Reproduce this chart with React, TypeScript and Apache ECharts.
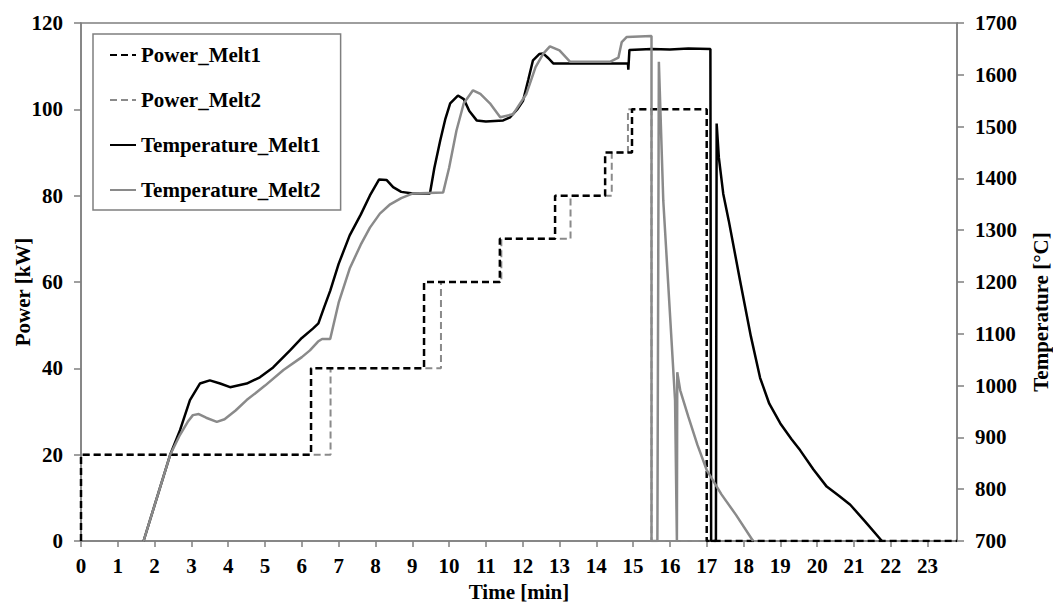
import { useEffect, useRef } from "react";
import * as echarts from "echarts";

// ---- Data ----
const timeTicksMax = 23.8;

const powerMelt1Time = [0, 0, 6.25, 9.32, 11.38, 12.88, 14.24, 14.97, 17.0, 23.8];
const powerMelt1Value = [0, 20, 40, 60, 70, 80, 90, 100, 0, 0];

const powerMelt2Time = [0, 0, 6.78, 9.78, 11.42, 13.3, 14.42, 14.86, 15.5, 23.8];
const powerMelt2Value = [0, 20, 40, 60, 70, 80, 90, 100, 0, 0];

const tempMelt1Time = [
  1.7, 2.42, 2.69, 2.96, 3.23, 3.5, 3.78, 4.05, 4.5, 4.86, 5.22, 5.68, 6.0, 6.3, 6.45, 6.6, 6.77,
  7.0, 7.3, 7.6, 7.85, 8.1, 8.3, 8.48, 8.7, 9.02, 9.48, 9.6, 9.76, 9.9, 10.03, 10.24, 10.4, 10.55,
  10.75, 11.0, 11.47, 11.66, 11.85, 12.01, 12.15, 12.28, 12.45, 12.56, 12.7, 12.83, 14.86, 14.87,
  14.9, 15.5, 16.0, 16.5, 17.1, 17.12, 17.25, 17.27, 17.33, 17.45, 17.6, 17.9, 18.2, 18.45, 18.7,
  19.0, 19.3, 19.54, 19.9, 20.26, 20.6, 20.9, 21.3, 21.76,
];
const tempMelt1Value = [
  700, 866, 914, 972, 1004, 1010, 1004, 997, 1004, 1016, 1035, 1068, 1092, 1110, 1120, 1150, 1183,
  1235, 1290, 1330, 1367, 1398, 1397, 1383, 1374, 1371, 1371, 1420, 1473, 1515, 1545, 1560, 1553,
  1530, 1512, 1510, 1512, 1518, 1533, 1550, 1590, 1628, 1640, 1641, 1632, 1622, 1622, 1610,
  1648, 1650, 1649, 1651, 1650, 700, 700, 1506, 1440, 1370, 1318, 1205, 1095, 1015, 965,
  927, 897, 875, 838, 805, 787, 770, 738, 700,
];

const tempMelt2Time = [
  1.7, 2.42, 2.69, 2.9, 3.04, 3.2, 3.4, 3.69, 3.9, 4.2, 4.5, 5.0, 5.5, 6.0, 6.22, 6.44, 6.55, 6.77,
  7.0, 7.3, 7.6, 7.85, 8.12, 8.4, 8.7, 9.02, 9.84, 10.0, 10.2, 10.4, 10.65, 10.85, 11.11, 11.39,
  11.74, 12.1, 12.35, 12.56, 12.74, 13.0, 13.29, 14.37, 14.6, 14.69, 14.83, 15.5, 15.5, 15.66,
  15.7, 15.82, 16.14, 16.19, 16.2, 16.28, 16.5, 16.75, 17.0, 17.4, 17.8, 18.26,
];
const tempMelt2Value = [
  700, 866, 905, 930, 943, 945, 938, 930, 935, 952, 972, 1000, 1030, 1055, 1068, 1085, 1090, 1090,
  1160, 1226, 1272, 1305, 1332, 1350, 1362, 1371, 1373, 1420, 1492, 1545, 1570, 1563, 1545, 1518,
  1524, 1563, 1615, 1641, 1655, 1647, 1625, 1625, 1633, 1663, 1673, 1675, 700, 700,
  1625, 1357, 972, 700, 1026, 991, 940, 885, 837, 790, 750, 700,
];

const zip = (t: number[], v: number[]) => t.map((x, i) => [x, v[i]]);

const FONT = '"Liberation Serif", "Times New Roman", serif';
const GRAY = "#8a8a8a";
const AXIS_GRAY = "#7f7f7f";

export default function App() {
  const ref = useRef<HTMLDivElement>(null);

  useEffect(() => {
    if (!ref.current) return;
    const chart = echarts.init(ref.current, null, { renderer: "svg" });
    const labelStyle = { fontFamily: FONT, fontWeight: "bold" as const, fontSize: 21, color: "#000" };
    chart.setOption({
      animation: false,
      backgroundColor: "#fff",
      grid: {
        left: 81,
        right: 96,
        top: 23,
        bottom: 62,
        show: true,
        borderColor: AXIS_GRAY,
        borderWidth: 1.5,
        containLabel: false,
        outerBoundsMode: "none",
      },
      legend: {
        data: ["Power_Melt1", "Power_Melt2", "Temperature_Melt1", "Temperature_Melt2"],
        orient: "vertical",
        left: 93,
        top: 34,
        itemWidth: 26,
        itemHeight: 14,
        itemGap: 21,
        padding: [9, 20, 8, 16],
        backgroundColor: "#fff",
        borderColor: AXIS_GRAY,
        borderWidth: 1.5,
        itemStyle: { opacity: 0 },
        textStyle: { ...labelStyle, lineHeight: 24 },
      },
      xAxis: {
        type: "value",
        min: 0,
        max: timeTicksMax,
        interval: 1,
        name: "Time [min]",
        nameLocation: "middle",
        nameGap: 40,
        nameMoveOverlap: false,
        nameTextStyle: labelStyle,
        axisLine: { show: true, lineStyle: { color: AXIS_GRAY, width: 1.5 } },
        axisTick: { show: true, inside: false, length: 6, lineStyle: { color: AXIS_GRAY, width: 1.5 } },
        axisLabel: { ...labelStyle, margin: 14, showMaxLabel: false },
        splitLine: { show: false },
      },
      yAxis: [
        {
          type: "value",
          min: 0,
          max: 120,
          interval: 20,
          position: "left",
          name: "Power [kW]",
          nameLocation: "middle",
          nameGap: 48,
          nameMoveOverlap: false,
          nameTextStyle: { ...labelStyle, padding: [0, 20, 0, 0] },
          axisLine: { show: true, lineStyle: { color: AXIS_GRAY, width: 1.5 } },
          axisTick: { show: true, inside: false, length: 7, lineStyle: { color: AXIS_GRAY, width: 1.5 } },
          axisLabel: { ...labelStyle, margin: 18 },
          splitLine: { show: false },
        },
        {
          type: "value",
          min: 700,
          max: 1700,
          interval: 100,
          position: "right",
          name: "Temperature [°C]",
          nameLocation: "middle",
          nameGap: 73,
          nameMoveOverlap: false,
          nameTextStyle: { ...labelStyle, padding: [0, 60, 0, 0] },
          axisLine: { show: true, lineStyle: { color: AXIS_GRAY, width: 1.5 } },
          axisTick: { show: true, inside: false, length: 7, lineStyle: { color: AXIS_GRAY, width: 1.5 } },
          axisLabel: { ...labelStyle, margin: 18, formatter: (v: number) => String(v) },
          splitLine: { show: false },
        },
      ],
      series: [
        {
          name: "Power_Melt2",
          type: "line",
          step: "end",
          yAxisIndex: 0,
          showSymbol: false,
          symbol: "none",
          data: zip(powerMelt2Time, powerMelt2Value),
          lineStyle: { color: GRAY, width: 2, type: [7, 4] },
          itemStyle: { color: GRAY },
        },
        {
          name: "Power_Melt1",
          type: "line",
          step: "end",
          yAxisIndex: 0,
          showSymbol: false,
          symbol: "none",
          data: zip(powerMelt1Time, powerMelt1Value),
          lineStyle: { color: "#000", width: 2.5, type: [7, 4] },
          itemStyle: { color: "#000" },
        },
        {
          name: "Temperature_Melt1",
          type: "line",
          yAxisIndex: 1,
          showSymbol: false,
          symbol: "none",
          data: zip(tempMelt1Time, tempMelt1Value),
          lineStyle: { color: "#000", width: 2.5 },
          itemStyle: { color: "#000" },
        },
        {
          name: "Temperature_Melt2",
          type: "line",
          yAxisIndex: 1,
          showSymbol: false,
          symbol: "none",
          data: zip(tempMelt2Time, tempMelt2Value),
          lineStyle: { color: GRAY, width: 2.5 },
          itemStyle: { color: GRAY },
        },
      ],
    });
    return () => chart.dispose();
  }, []);

  return (
    <div
      ref={ref}
      style={{ position: "fixed", left: 0, top: 0, width: 1053, height: 603, background: "#fff" }}
    />
  );
}
